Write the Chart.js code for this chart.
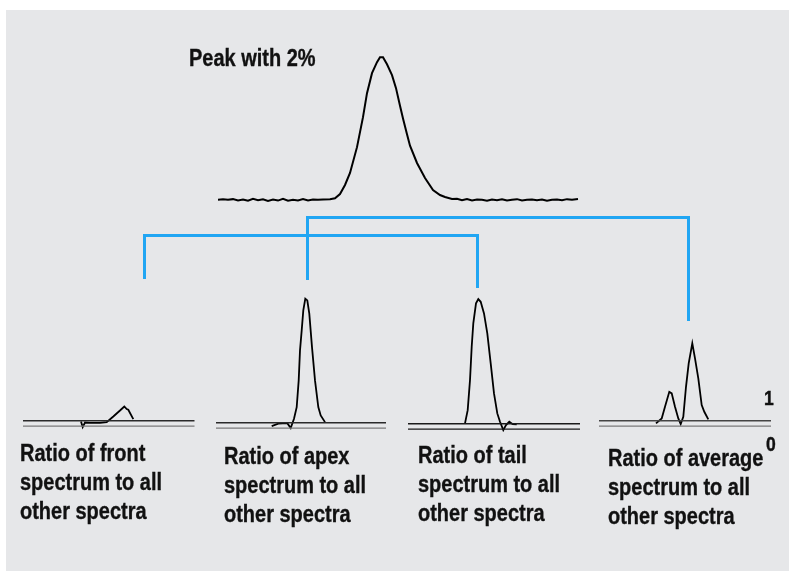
<!DOCTYPE html>
<html>
<head>
<meta charset="utf-8">
<script src="https://cdn.jsdelivr.net/npm/chart.js@4.4.1/dist/chart.umd.min.js"></script>
<style>
  html, body { margin: 0; padding: 0; background: #ffffff; }
  body { width: 789px; height: 571px; position: relative; overflow: hidden; }
  #bg { position: absolute; left: 6px; top: 10px; right: 0; bottom: 0; background: #e6e7e9; }
  canvas { position: absolute; }
  .lbl { position: absolute; font-family: "Liberation Sans", Arial, sans-serif;
         font-weight: bold; font-size: 23.5px; line-height: 29px; color: #111; white-space: nowrap;
         -webkit-text-stroke: 0.35px #111;
         transform: scaleX(0.85); transform-origin: 0 0; }
  .num { position: absolute; font-family: "Liberation Sans", Arial, sans-serif;
         font-weight: bold; font-size: 19.5px; line-height: 19px; color: #111;
         -webkit-text-stroke: 0.4px #111;
         transform: scaleX(0.9); transform-origin: 0 0; }
  .br { position: absolute; background: #21a6f3; }
</style>
</head>
<body>
<div id="bg"></div>

<canvas id="cPeak" width="380" height="160" style="left:208px;top:50px;"></canvas>
<canvas id="cFront" width="172" height="159" style="left:23px;top:283px;"></canvas>
<canvas id="cApex" width="172" height="159" style="left:216px;top:285px;"></canvas>
<canvas id="cTail" width="172" height="159" style="left:408px;top:286px;"></canvas>
<canvas id="cAvg" width="172" height="159" style="left:599px;top:283px;"></canvas>

<!-- connector brackets -->
<div class="br" style="left:143px;top:234px;width:336px;height:3px;"></div>
<div class="br" style="left:143px;top:234px;width:3px;height:45px;"></div>
<div class="br" style="left:476px;top:234px;width:3px;height:54px;"></div>
<div class="br" style="left:306px;top:216px;width:384px;height:3px;"></div>
<div class="br" style="left:306px;top:216px;width:3px;height:64px;"></div>
<div class="br" style="left:687px;top:216px;width:3px;height:105px;"></div>

<div class="lbl" style="left:189px;top:44px;">Peak with 2%</div>
<div class="lbl" style="left:20px;top:439px;">Ratio of front<br>spectrum to all<br>other spectra</div>
<div class="lbl" style="left:224px;top:442px;">Ratio of apex<br>spectrum to all<br>other spectra</div>
<div class="lbl" style="left:418px;top:441px;">Ratio of tail<br>spectrum to all<br>other spectra</div>
<div class="lbl" style="left:608px;top:444px;">Ratio of average<br>spectrum to all<br>other spectra</div>
<div class="num" style="left:764px;top:389px;">1</div>
<div class="num" style="left:766px;top:435px;">0</div>

<script>
// ---------- data ----------
// Chromatographic peak (time units, signal %)
const peakTime = [1.0,1.5,2.0,2.5,3.0,3.5,4.0,4.5,5.0,5.5,6.0,6.5,7.0,7.5,8.0,8.5,9.0,9.5,10.0,10.5,11.0,11.5,12.2,
  12.7,13.2,13.7,14.2,14.9,15.5,15.9,16.4,16.9,17.2,17.5,17.9,18.4,18.8,19.2,19.5,19.9,20.2,20.9,21.7,22.5,23.2,23.7,24.4,24.9,
  25.4,25.9,26.4,26.9,27.4,27.9,28.4,28.9,29.4,29.9,30.4,30.9,31.4,31.9,32.4,32.9,33.4,33.9,34.4,34.9,35.4,35.9,36.4,37.0];
const peakSignal = [0.2,0.5,0.1,0.6,-0.3,0.4,-0.5,0.8,-0.2,0.5,-0.6,0.3,-0.4,0.9,-0.5,0.2,-0.3,0.6,-0.4,0.3,0.1,0.4,0.5,
  1.2,4.2,10.5,18.9,37,58,74.8,88.8,96.5,100,100,95,87.4,78.3,66,57,46,38,25.9,15.4,7,3.5,2.1,0.7,0.9,
  -0.2,0.6,-0.3,0.4,0.1,-0.5,0.3,-0.2,0.5,-0.4,0.2,0.6,-0.3,0.1,0.4,-0.2,0.3,-0.5,0.2,0.4,-0.1,0.6,0.2,0.7];

// Ratio of front spectrum
const frontTime  = [11.6,11.94,12.4,13.4,15.4,16.74,18.06,19.4,20.26,20.74,21.06,22.06];
const frontRatio = [0.87,-0.19,0.68,0.62,0.62,0.75,1.81,2.94,3.70,3.21,3.08,1.32];
// Ratio of apex spectrum
const apexTime  = [11.14,12.46,14.26,14.94,15.6,16.14,16.54,16.8,17.14,17.46,17.86,18.26,18.66,19.2,19.8,20.46,20.94,21.8];
const apexRatio = [0.38,0.83,0.94,0,1.77,3.96,9.0,14.66,18.43,22.2,24.42,24.09,21.58,15.28,9.0,3.96,2.40,1.13];
// Ratio of tail spectrum
const tailTime  = [11.4,11.94,12.4,12.74,13.06,13.6,14.06,14.54,15.2,15.86,16.54,17.2,17.86,18.4,19.06,19.6,20.26,20.94,21.74];
const tailRatio = [1.08,3.58,9.25,15.53,19.94,23.72,24.53,24.02,21.83,18.06,12.40,6.74,2.96,1.38,-0.19,0.75,1.38,0.94,0.89];
// Ratio of average spectrum
const avgTime  = [11.4,12.54,13.2,14.06,14.54,15.2,15.86,16.34,16.86,17.4,17.94,18.66,19.2,19.86,20.54,21.06,21.86];
const avgRatio = [0.51,1.45,3.64,6.47,6.17,3.64,1.45,0.38,1.75,7.42,11.83,15.6,12.77,9.0,3.96,2.70,1.26];

// reference levels (1 and 0) and the time span of each ratio panel
const refLevels = [1, 0];
const panelSpan = [34.3, 34.0, 34.4, 34.5];

// ---------- charts ----------
function pts(xs, ys) { return xs.map((x, i) => ({ x: x, y: ys[i] })); }

function baseOpts(xmin, xmax, ymin, ymax) {
  return {
    responsive: false, animation: false, devicePixelRatio: 1,
    layout: { padding: 0 },
    plugins: { legend: { display: false }, tooltip: { enabled: false }, title: { display: false } },
    elements: { point: { radius: 0 }, line: { tension: 0 } },
    scales: {
      x: { type: 'linear', display: false, min: xmin, max: xmax },
      y: { type: 'linear', display: false, min: ymin, max: ymax }
    }
  };
}

new Chart(document.getElementById('cPeak'), {
  type: 'scatter',
  data: { datasets: [{ data: pts(peakTime, peakSignal), showLine: true, borderColor: '#000', borderWidth: 2, pointRadius: 0 }] },
  options: baseOpts(0, 38, -7, 105)
});

function ratioChart(id, xs, ys, span, topColor, botColor) {
  const refSets = refLevels.map((lv, i) => ({
    data: [{ x: 0, y: lv }, { x: span, y: lv }],
    showLine: true, borderColor: i === 0 ? topColor : botColor, borderWidth: 1.4, pointRadius: 0
  }));
  new Chart(document.getElementById(id), {
    type: 'scatter',
    data: { datasets: refSets.concat([{ data: pts(xs, ys), showLine: true, borderColor: '#000', borderWidth: 1.8, pointRadius: 0 }]) },
    options: baseOpts(0, 34.4, -3, 27)
  });
}

ratioChart('cFront', frontTime, frontRatio, panelSpan[0], '#2a2a2a', '#7a7a7a');
ratioChart('cApex',  apexTime,  apexRatio,  panelSpan[1], '#2a2a2a', '#7a7a7a');
ratioChart('cTail',  tailTime,  tailRatio,  panelSpan[2], '#1a1a1a', '#1a1a1a');
ratioChart('cAvg',   avgTime,   avgRatio,   panelSpan[3], '#444444', '#7a7a7a');
</script>
</body>
</html>
